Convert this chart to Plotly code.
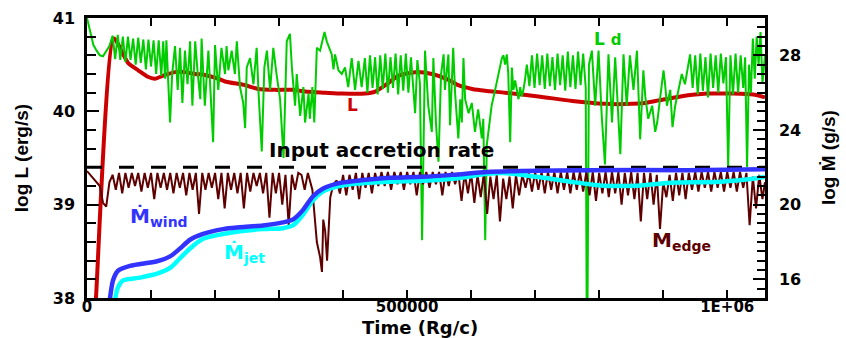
import plotly.graph_objects as go

# ---------------- data (time in units of 1000 Rg/c) ----------------
L_time_k = [10, 14, 42, 64, 80, 95, 106, 122, 137.5, 153, 169, 184, 205, 215.6, 247, 267, 294, 320, 345,
            372, 398, 434, 450, 466, 486, 512.5, 539, 564, 580, 601.6, 622, 653, 705, 758, 809, 851.6,
            872, 895, 927, 969, 1009, 1040.6, 1059]
L_log = [37.6, 38.0, 40.78, 40.52, 40.44, 40.37, 40.35, 40.39, 40.42, 40.42, 40.4, 40.39, 40.35, 40.32,
         40.28, 40.24, 40.23, 40.23, 40.21, 40.2, 40.19, 40.19, 40.21, 40.28, 40.38, 40.42, 40.4, 40.34,
         40.28, 40.24, 40.22, 40.2, 40.16, 40.11, 40.08, 40.08, 40.09, 40.12, 40.16, 40.19, 40.19, 40.18,
         40.15]

Ld_time_k = [0, 5, 10, 15, 20, 25, 30, 35, 40, 44, 48, 52, 56, 60, 64, 68, 72, 76, 80, 84, 88, 92, 96,
             100, 104, 108, 112, 116, 119, 122, 124, 127, 129.7, 133, 137.5, 141.7, 145.3, 149, 153, 157,
             161, 164.6, 169, 173, 177, 179, 184, 189.6, 197, 200, 205, 210, 215.6, 218, 220.8, 226, 231,
             234, 239, 244, 247, 249.5, 254.7, 260, 265, 268, 273, 277, 281, 286, 291, 296, 301.6, 307,
             312, 317, 320, 325, 327.6, 333, 338, 340.6, 346, 348, 352, 355, 359, 364, 371, 374.5, 380,
             382.3, 385, 387.5, 392.7, 398, 403, 408, 413.5, 418.7, 424, 429, 434, 438, 442, 446, 450,
             454, 458, 462, 466, 470, 474, 478, 482, 486, 490, 494, 498, 502, 506, 509, 512.5, 516, 520,
             523.4, 528, 533, 538.6, 541, 545, 549, 553, 557, 559, 564.5, 567, 572, 575, 580, 583, 585.5,
             588, 590.6, 596, 601, 606, 611, 616.7, 619, 622, 624.5, 627, 632, 637.5, 642.7, 648, 650.5,
             653, 655.7, 658, 661, 663.6, 666, 668.75, 674, 676.6, 679, 681.7, 684, 687, 691, 695, 699,
             703, 707, 711, 715, 719, 723, 727, 731, 735, 739, 743, 747, 751, 755, 759, 763, 767, 771,
             775, 779, 781, 784, 788.6, 793.75, 799, 804, 809, 814.5, 820, 825, 833, 838, 843, 848, 853.6,
             859, 864, 869, 872, 876.6, 882.8, 887.5, 890.6, 895, 900.5, 903, 905.8, 911, 914.5, 918.75,
             924, 929, 934, 937, 942, 946, 950, 954, 958, 962, 966, 970, 974, 978, 982, 986, 990, 994,
             998, 1001.5, 1005, 1009, 1013, 1017, 1021, 1025, 1028, 1031, 1034, 1037, 1040, 1043, 1046,
             1049, 1052, 1055, 1059]
Ld_log = [41.0, 40.86, 40.71, 40.65, 40.6, 40.59, 40.64, 40.7, 40.81, 40.56, 40.82, 40.55, 40.8, 40.53,
          40.8, 40.55, 40.78, 40.5, 40.79, 40.52, 40.77, 40.45, 40.77, 40.48, 40.76, 40.4, 40.76, 40.38,
          40.75, 40.35, 40.76, 40.29, 39.88, 40.4, 40.7, 40.23, 40.68, 40.09, 40.65, 40.29, 40.75, 40.06,
          40.75, 40.4, 40.13, 40.78, 40.06, 40.65, 39.67, 40.71, 40.23, 40.68, 40.4, 40.7, 40.44, 40.65,
          40.4, 40.75, 40.26, 40.09, 39.82, 40.47, 40.57, 40.29, 40.68, 40.19, 39.57, 40.47, 40.65, 40.23,
          40.68, 40.4, 40.13, 39.5, 40.75, 40.83, 40.47, 40.06, 40.4, 39.95, 40.26, 39.88, 40.19, 39.92,
          40.26, 39.88, 40.68, 40.65, 40.85, 40.75, 40.65, 40.61, 40.45, 40.61, 40.44, 40.4, 40.47, 40.26,
          40.57, 40.23, 40.54, 40.26, 40.57, 40.2, 40.6, 40.25, 40.58, 40.18, 40.6, 40.24, 40.62, 40.2,
          40.58, 40.25, 40.62, 40.18, 40.6, 40.22, 40.62, 40.2, 40.58, 40.25, 39.98, 40.55, 40.3, 38.62,
          40.65, 40.06, 39.78, 40.57, 39.88, 39.46, 40.4, 40.61, 40.23, 40.61, 39.85, 40.68, 40.19, 39.71,
          40.13, 39.88, 40.57, 40.13, 39.98, 40.09, 39.78, 40.02, 39.71, 39.92, 38.62, 39.64, 39.78, 40.06,
          40.23, 40.4, 40.57, 40.6, 40.5, 40.61, 40.4, 39.67, 40.47, 40.23, 40.33, 40.13, 40.26, 40.16,
          40.23, 40.33, 40.5, 40.27, 40.6, 40.25, 40.62, 40.28, 40.6, 40.24, 40.62, 40.27, 40.58, 40.23,
          40.62, 40.28, 40.6, 40.22, 40.64, 40.26, 40.6, 40.24, 40.64, 40.28, 40.62, 40.25, 37.0, 40.5,
          40.65, 40.06, 40.65, 39.95, 39.43, 40.61, 39.88, 40.58, 39.54, 40.61, 40.06, 40.6, 40.23, 40.65,
          39.7, 40.44, 40.16, 39.92, 40.06, 39.78, 39.88, 40.13, 40.44, 40.29, 40.06, 40.23, 39.83, 40.06,
          40.23, 40.4, 40.29, 40.4, 40.61, 40.25, 40.6, 40.18, 40.62, 40.22, 40.58, 40.15, 40.62, 40.25,
          40.6, 40.2, 40.62, 40.3, 40.58, 39.4, 40.6, 40.18, 40.62, 40.2, 40.6, 40.25, 40.58, 39.4, 40.5,
          40.2, 40.78, 40.35, 40.8, 40.5, 40.85, 40.3, 40.6]

wind_time_k = [32.8, 35.9, 40.6, 48.4, 67.2, 109.4, 129.7, 145.3, 160.9, 181.3, 212.5, 239, 275, 306,
               322, 337.5, 353, 368.8, 390.6, 421.9, 473.4, 525, 571.9, 625, 676.6, 781, 937.5, 1059]
wind_log = [14.4, 15.0, 15.94, 16.46, 16.72, 16.97, 17.23, 17.65, 18.12, 18.43, 18.69, 18.79, 18.89,
            19.05, 19.21, 19.72, 20.45, 20.87, 21.13, 21.28, 21.44, 21.49, 21.6, 21.75, 21.8, 21.85,
            21.85, 21.9]

jet_time_k = [40.6, 43.75, 48.4, 56.25, 82.8, 109.4, 129.7, 145.3, 160.9, 181.3, 212.5, 239, 275, 306,
              322, 337.5, 353, 368.8, 390.6, 421.9, 473.4, 525, 571.9, 625, 650, 703, 754.7, 806, 859,
              911, 989, 1040.6, 1059]
jet_log = [13.9, 14.9, 15.57, 15.94, 16.09, 16.3, 16.61, 17.13, 17.65, 18.17, 18.43, 18.58, 18.69,
           18.74, 18.9, 19.47, 20.24, 20.71, 20.97, 21.13, 21.23, 21.28, 21.39, 21.65, 21.7, 21.49,
           21.23, 21.02, 21.02, 21.18, 21.23, 21.39, 21.49]

edge_time_k = [0, 5, 10, 15, 20, 25, 30, 35, 40, 45, 50, 55, 60, 65, 70, 75, 80, 85, 90, 95, 100, 105,
               110, 115, 120, 125, 130, 135, 140, 145, 150, 155, 160, 165, 170, 175, 180, 185, 190, 195,
               200, 205, 210, 215, 220, 225, 230, 235, 240, 245, 250, 255, 260, 265, 270, 275, 280, 285,
               290, 295, 300, 305, 310, 315, 320, 325, 330, 335, 340, 345, 352, 359, 364, 367, 369, 372,
               375, 380, 385, 390, 395, 400, 405, 410, 415, 420, 425, 430, 435, 440, 445, 450, 455, 460,
               465, 470, 475, 480, 485, 490, 495, 500, 505, 510, 515, 520, 525, 530, 535, 540, 545, 550,
               555, 560, 565, 570, 575, 580, 585, 590, 595, 600, 605, 610, 615, 620, 625, 630, 635, 640,
               645, 650, 655, 660, 665, 670, 675, 680, 685, 690, 695, 700, 705, 710, 715, 720, 725, 730,
               735, 740, 745, 750, 755, 760, 765, 770, 775, 780, 785, 790, 795, 800, 805, 810, 815, 820,
               825, 830, 835, 840, 845, 850, 855, 860, 865, 870, 875, 880, 885, 890, 895, 900, 905, 910,
               915, 920, 925, 930, 935, 940, 945, 950, 955, 960, 965, 970, 975, 980, 985, 990, 995, 1000,
               1005, 1010, 1015, 1020, 1025, 1030, 1035, 1040, 1045, 1050, 1055, 1059]
edge_log = [21.8, 21.6, 21.4, 21.2, 21.0, 20.1, 19.9, 21.2, 21.6, 20.8, 21.7, 20.6, 21.7, 20.9, 21.7,
            21.0, 21.7, 20.7, 21.7, 20.9, 21.7, 20.3, 21.7, 20.9, 21.7, 20.8, 21.7, 20.6, 21.7, 20.9,
            21.7, 20.5, 21.7, 20.8, 21.7, 19.5, 21.7, 20.8, 21.7, 20.9, 21.7, 20.3, 21.7, 19.8, 21.7,
            20.8, 21.7, 20.6, 21.7, 19.8, 21.7, 20.7, 21.7, 21.0, 21.7, 20.6, 21.7, 19.3, 21.7, 20.6,
            21.7, 20.0, 21.6, 18.9, 21.6, 20.8, 21.7, 21.6, 20.8, 21.7, 20.8, 18.0, 17.2, 16.4, 19.2,
            18.6, 17.0, 20.4, 21.1, 21.3, 20.6, 21.6, 20.5, 21.6, 20.8, 21.7, 20.3, 21.7, 20.9, 21.7,
            20.6, 21.7, 21.0, 21.75, 21.0, 21.75, 20.8, 21.75, 21.1, 21.75, 20.8, 21.75, 21.1, 21.75,
            20.5, 21.75, 21.1, 21.75, 20.9, 21.75, 21.1, 21.75, 20.5, 21.75, 21.0, 21.75, 21.1, 21.7,
            20.2, 21.7, 20.6, 21.7, 20.1, 21.6, 20.4, 21.7, 19.5, 21.5, 20.3, 21.6, 19.1, 21.4, 20.3,
            21.5, 19.8, 21.6, 20.5, 21.6, 20.9, 21.7, 20.7, 21.75, 20.8, 21.75, 20.6, 21.75, 20.8, 21.75,
            20.6, 21.75, 20.8, 21.75, 20.6, 21.75, 20.8, 21.75, 20.7, 21.75, 20.5, 21.75, 20.2, 21.7,
            20.6, 21.75, 20.4, 21.75, 20.6, 21.75, 20.0, 21.7, 20.5, 21.75, 20.3, 21.7, 19.1, 21.7, 20.3,
            21.7, 20.0, 21.6, 18.7, 21.2, 20.4, 21.6, 20.2, 21.7, 20.5, 21.7, 20.3, 21.7, 20.8, 21.75,
            20.7, 21.75, 20.9, 21.75, 20.7, 21.75, 20.9, 21.75, 20.7, 21.75, 20.9, 21.75, 20.7, 21.75,
            20.9, 21.7, 18.9, 21.5, 19.8, 21.6, 20.3, 21.2]

input_rate_log = 22.0
time_range_k = [0, 1059]

x_tick_vals = [0, 500000, 1000000]
x_tick_text = ["0", "500000", "1E+06"]
yL_tick_vals = [38, 39, 40, 41]
yM_tick_vals = [16, 20, 24, 28]

K = 1000.0
def sec(v):
    return [t * K for t in v]

RED = "#CC0000"
GREEN = "#00CC00"
BLUE = "#3333FF"
CYAN = "#00FFFF"
MAROON = "#5E0000"

fig = go.Figure()
fig.add_trace(go.Scatter(x=sec(time_range_k), y=[input_rate_log] * 2, yaxis="y2", mode="lines",
                         line=dict(color="black", width=3, dash="15px,17px"), hoverinfo="skip"))
fig.add_trace(go.Scatter(x=sec(edge_time_k), y=edge_log, yaxis="y2", mode="lines",
                         line=dict(color=MAROON, width=2)))
fig.add_trace(go.Scatter(x=sec(jet_time_k), y=jet_log, yaxis="y2", mode="lines",
                         line=dict(color=CYAN, width=4.5, shape="spline", smoothing=0.8)))
fig.add_trace(go.Scatter(x=sec(wind_time_k), y=wind_log, yaxis="y2", mode="lines",
                         line=dict(color=BLUE, width=4.5, shape="spline", smoothing=0.8)))
fig.add_trace(go.Scatter(x=sec(L_time_k), y=L_log, yaxis="y", mode="lines",
                         line=dict(color=RED, width=4, shape="spline", smoothing=0.6)))
fig.add_trace(go.Scatter(x=sec(Ld_time_k), y=Ld_log, yaxis="y", mode="lines",
                         line=dict(color=GREEN, width=2)))

tickfont = dict(family="DejaVu Sans", size=16, color="black", weight="bold")
xtickfont = dict(family="DejaVu Sans", size=15, color="black", weight="bold")
fig.update_layout(
    width=846, height=338,
    margin=dict(l=87, r=81, t=9, b=40),
    paper_bgcolor="white", plot_bgcolor="white",
    showlegend=False,
    xaxis=dict(range=[time_range_k[0] * K, time_range_k[1] * K], tickvals=x_tick_vals, ticktext=x_tick_text,
               ticks="inside", ticklen=8, tickwidth=2, tickcolor="black",
               minor=dict(ticks="inside", dtick=100000, tick0=0, ticklen=7, tickwidth=2, tickcolor="black", showgrid=False),
               showline=True, linewidth=2.5, linecolor="black", mirror="allticks",
               showgrid=False, zeroline=False, tickfont=xtickfont, ticklabelstandoff=-7),
    yaxis=dict(range=[38, 41], tickvals=yL_tick_vals, ticks="inside", ticklen=12, tickwidth=2, tickcolor="black",
               minor=dict(ticks="inside", dtick=0.2, tick0=38, ticklen=9, tickwidth=2, tickcolor="black", showgrid=False),
               showline=True, linewidth=2.5, linecolor="black",
               showgrid=False, zeroline=False, tickfont=tickfont, ticklabelstandoff=6),
    yaxis2=dict(range=[15, 30], overlaying="y", side="right", tickvals=yM_tick_vals,
                ticks="inside", ticklen=12, tickwidth=2, tickcolor="black",
                minor=dict(ticks="inside", dtick=0.5, tick0=15, ticklen=8, tickwidth=2, tickcolor="black", showgrid=False),
                showline=True, linewidth=2.5, linecolor="black",
                showgrid=False, zeroline=False, tickfont=tickfont, ticklabelstandoff=8),
)

def ann(text, x, y, color, size, xanchor="center", yanchor="middle", angle=0, family="DejaVu Sans"):
    fig.add_annotation(text=text, x=x, y=y, xref="paper", yref="paper", showarrow=False,
                       xanchor=xanchor, yanchor=yanchor, textangle=angle,
                       font=dict(family=family, size=size, color=color, weight="bold"))

ann("log L (erg/s)", -0.097, 0.50, "black", 19, angle=-90, family="Liberation Sans")
ann("log \u1E40 (g/s)", 1.093, 0.50, "black", 19, angle=-90, family="Liberation Sans")
ann("Time (Rg/c)", 0.491, -0.104, "black", 18)
ann("L", 0.391, 0.689, RED, 17)
ann("L <span style='font-size:15px'>d</span>", 0.768, 0.924, GREEN, 17)
ann("Input accretion rate", 0.434, 0.528, "black", 20)
ann("\u1E40<sub>wind</sub>", 0.060, 0.29, BLUE, 20, xanchor="left")
ann("\u1E40<sub>jet</sub>", 0.199, 0.16, CYAN, 20, xanchor="left")
ann("M<sub>edge</sub>", 0.830, 0.205, MAROON, 20, xanchor="left")

fig.write_html("out.html", config={"displayModeBar": False},
               post_script="document.body.style.margin='0';")
